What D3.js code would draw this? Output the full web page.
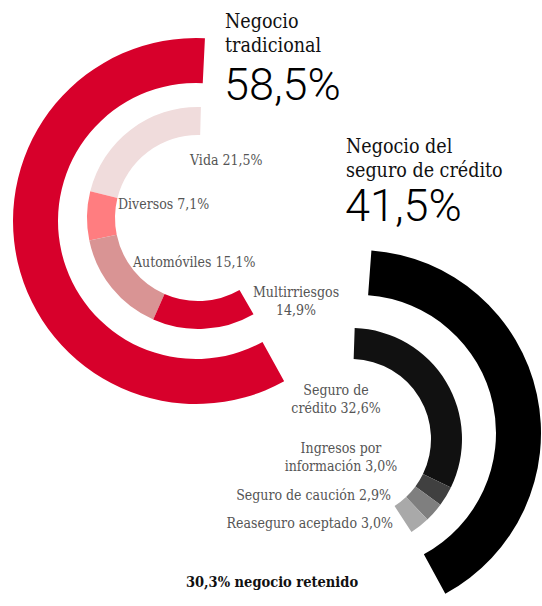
<!DOCTYPE html>
<html>
<head>
<meta charset="utf-8">
<script src="https://cdn.jsdelivr.net/npm/d3@7"></script>
<style>
    body { margin: 0; background: #fff; }
    svg { display: block; }
    .serif { font-family: "DejaVu Serif", serif; font-stretch: condensed; }
    .big { font-family: Roboto, "Liberation Sans", sans-serif; font-weight: 300; }
</style>
</head>
<body>
<div id="chart"></div>
<script>
// ---- data ----
const groups = ["Negocio tradicional", "Negocio del seguro de crédito"];
const groupValues = [58.5, 41.5];

const tradCategories = ["Vida", "Diversos", "Automóviles", "Multirriesgos"];
const tradValues = [21.5, 7.1, 15.1, 14.9];

const credCategories = ["Seguro de crédito", "Ingresos por información", "Seguro de caución", "Reaseguro aceptado"];
const credValues = [32.6, 3.0, 2.9, 3.0];

const retainedValue = 30.3;
const retainedLabel = "negocio retenido";

// ---- layout / style ----
const width = 542, height = 606;
const deg = Math.PI / 180;

const groupColors = ["#d7002b", "#000000"];
const tradColors = ["#f0dcdc", "#ff7d80", "#d99494", "#d7002b"];
const credColors = ["#111111", "#404040", "#7f7f7f", "#a9a9a9"];

// each ring: centre, radii and the angle range it is spread over
const outerRings = [
    {cx: 196, cy: 221, r0: 138, r1: 183, a0: 362.8, a1: 151.2},
    {cx: 358, cy: 433, r0: 138, r1: 183, a0: 4.2, a1: 151.5}
];
const innerRings = [
    {cx: 198, cy: 218, r0: 83, r1: 111, a0: 361.5, a1: 150},
    {cx: 351, cy: 439, r0: 80, r1: 111, a0: 1.9, a1: 147}
];

const titlePos = [
    {x: 225, y: 28, wrap: 1, numY: 100},
    {x: 346, y: 153, wrap: 2, numY: 221}
];

const tradLabelPos = [
    {x: 190, y: 165, anchor: "start", wrap: 0},
    {x: 118, y: 209, anchor: "start", wrap: 0},
    {x: 133, y: 267, anchor: "start", wrap: 0},
    {x: 296, y: 297, anchor: "middle", wrap: 1}
];
const credLabelPos = [
    {x: 336, y: 395, anchor: "middle", wrap: 2},
    {x: 341, y: 453, anchor: "middle", wrap: 2},
    {x: 391, y: 500, anchor: "end", wrap: 0},
    {x: 393, y: 528, anchor: "end", wrap: 0}
];

const fmt = d3.formatLocale({decimal: ",", thousands: ".", grouping: [3], currency: ["", " €"]}).format(".1f");

const svg = d3.select("#chart")
    .append("svg")
    .attr("width", width)
    .attr("height", height);

const arc = d3.arc();

function drawRing(ring, values, colors) {
    const pie = d3.pie()
        .sort(null)
        .value(d => d)
        .startAngle(ring.a0 * deg)
        .endAngle(ring.a1 * deg);
    svg.append("g")
        .attr("transform", `translate(${ring.cx},${ring.cy})`)
        .selectAll("path")
        .data(pie(values))
        .enter()
        .append("path")
        .attr("d", d => arc.innerRadius(ring.r0).outerRadius(ring.r1)(d))
        .attr("fill", (d, i) => colors[i]);
}

// outer rings: one slice each
groupValues.forEach((v, i) => drawRing(outerRings[i], [v], [groupColors[i]]));
// inner rings: breakdown
drawRing(innerRings[0], tradValues, tradColors);
drawRing(innerRings[1], credValues, credColors);

// multi-line text helper
function addLines(sel, words, wrap, lh) {
    const lines = wrap > 0 ? [words.slice(0, wrap).join(" "), words.slice(wrap).join(" ")] : [words.join(" ")];
    lines.forEach((l, i) => {
        sel.append("tspan")
            .attr("x", sel.attr("x"))
            .attr("dy", i === 0 ? 0 : lh)
            .text(l);
    });
}

// group titles + big percentages
groups.forEach((g, i) => {
    const p = titlePos[i];
    const t = svg.append("text")
        .attr("class", "serif")
        .attr("x", p.x)
        .attr("y", p.y)
        .attr("font-size", 19.5)
        .attr("fill", "#111");
    addLines(t, g.split(" "), p.wrap, 23.5);

    svg.append("text")
        .attr("class", "big")
        .attr("x", p.x - 1)
        .attr("y", p.numY)
        .attr("font-size", 45)
        .attr("fill", "#000")
        .text(fmt(groupValues[i]) + "%");
});

// segment labels
function drawLabels(cats, vals, pos) {
    cats.forEach((c, i) => {
        const p = pos[i];
        const t = svg.append("text")
            .attr("class", "serif")
            .attr("x", p.x)
            .attr("y", p.y)
            .attr("text-anchor", p.anchor)
            .attr("font-size", 14)
            .attr("fill", "#555");
        addLines(t, (c + " " + fmt(vals[i]) + "%").split(" "), p.wrap, 18);
    });
}
drawLabels(tradCategories, tradValues, tradLabelPos);
drawLabels(credCategories, credValues, credLabelPos);

// footer
svg.append("text")
    .attr("class", "serif")
    .attr("x", 272)
    .attr("y", 587)
    .attr("text-anchor", "middle")
    .attr("font-size", 14.5)
    .attr("font-weight", "bold")
    .attr("fill", "#111")
    .text(fmt(retainedValue) + "% " + retainedLabel);
</script>
</body>
</html>
